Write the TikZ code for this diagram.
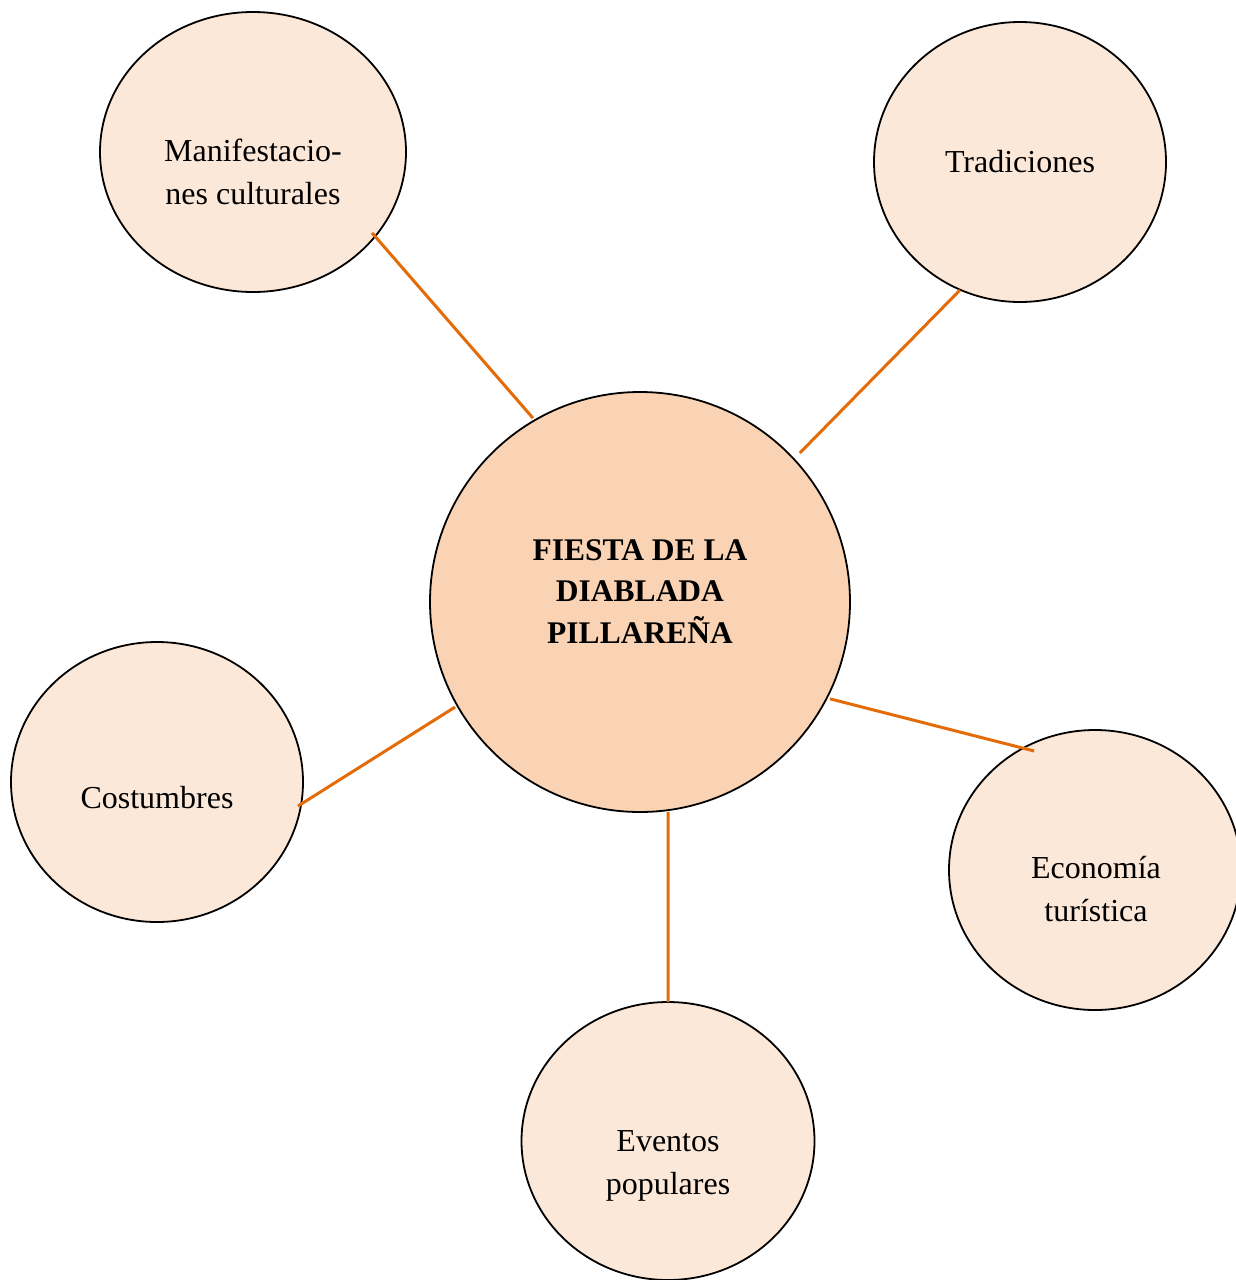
\documentclass[tikz,border=0pt]{standalone}
\usepackage{fontspec}
\setmainfont{Liberation Serif}
\usetikzlibrary{shapes.geometric,calc}
\definecolor{hubfill}{HTML}{F9D3B3}
\definecolor{leaffill}{HTML}{FCE8D9}
\definecolor{linkcol}{HTML}{E36C09}
\begin{document}
\begin{tikzpicture}[x=1pt,y=-1pt,
  leaf/.style={ellipse,draw=black,line width=1.8pt,fill=leaffill,inner sep=0pt},
  hub/.style={circle,draw=black,line width=1.8pt,fill=hubfill,inner sep=0pt,minimum size=420pt},
  lbl/.style={align=center,anchor=base,font=\fontsize{32}{42.5}\selectfont,inner sep=0pt},
  hublbl/.style={align=center,anchor=base,font=\fontsize{31.5}{41.5}\selectfont\bfseries,inner sep=0pt},
  link/.style={draw=linkcol,line width=3pt}]
\useasboundingbox (0,0) rectangle (1236,1280);
\node[hub] (hub) at (640,602) {};
\node[leaf,minimum width=306pt,minimum height=280pt] (man) at (253,152) {};
\node[leaf,minimum width=292pt,minimum height=280pt] (tra) at (1020,162) {};
\node[leaf,minimum width=292pt,minimum height=280pt] (cos) at (157,782) {};
\node[leaf,minimum width=292pt,minimum height=280pt] (eco) at (1095,870) {};
\node[leaf,minimum width=293pt,minimum height=278pt] (eve) at (668,1141) {};
\node[hublbl] (hubt) at (640,643) {FIESTA DE LA\\DIABLADA\\PILLAREÑA};
\node[lbl] (mant) at (253,204) {Manifestacio-\\nes culturales};
\node[lbl] (trat) at (1020,172) {Tradiciones};
\node[lbl] (cost) at (157,808) {Costumbres};
\node[lbl] (ecot) at (1096,921) {Economía\\turística};
\node[lbl] (evet) at (668,1194) {Eventos\\populares};
\draw[link] ($(hub.center)+(120.2:212.8pt)$) -- ($(man.center)+(-34.2:144pt)$);
\draw[link] ($(hub.center)+(43:218.6pt)$) -- ($(tra.center)+(-115.1:141.4pt)$);
\draw[link] ($(hub.center)+(209.6:212.7pt)$) -- ($(cos.center)+(-9.7:143pt)$);
\draw[link] ($(hub.center)+(-27:213.3pt)$) -- ($(eco.center)+(117.1:133.7pt)$);
\draw[link] ($(hub.center)+(-82.4:211.9pt)$) -- ($(eve.center)+(90:139pt)$);
\end{tikzpicture}
\end{document}
